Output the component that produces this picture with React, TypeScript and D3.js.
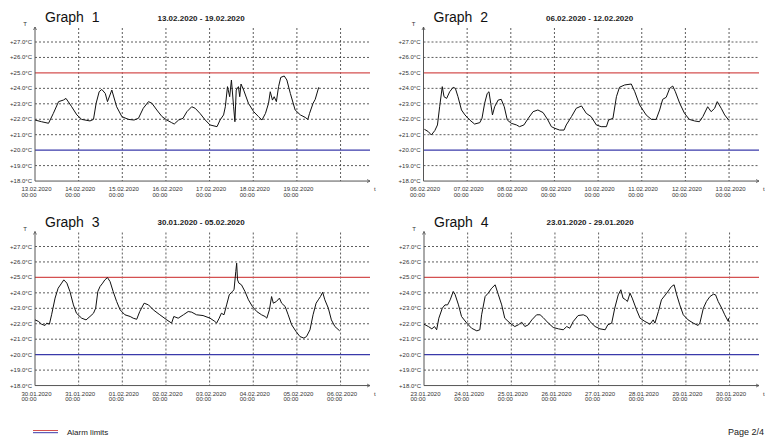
import React from "react";
import * as d3 from "d3";

// ---- Data (day offset from first date, temperature °C) ----
const graph1Readings: [number, number][] = [
  [0.0, 21.95], [0.15, 21.84], [0.31, 21.74], [0.42, 22.38], [0.54, 23.14], [0.65, 23.24], [0.71, 23.35],
  [0.84, 22.81], [0.96, 22.28], [1.07, 21.99], [1.26, 21.89], [1.34, 21.99], [1.4, 23.03], [1.47, 23.78],
  [1.53, 23.93], [1.61, 23.67], [1.66, 23.14], [1.76, 23.89], [1.87, 22.81], [1.99, 22.17], [2.14, 21.99],
  [2.27, 21.95], [2.37, 22.06], [2.48, 22.71], [2.6, 23.14], [2.68, 23.03], [2.79, 22.6], [2.91, 22.17],
  [3.02, 21.95], [3.13, 21.78], [3.19, 21.69], [3.29, 21.95], [3.39, 22.06], [3.48, 22.49], [3.59, 22.81],
  [3.67, 22.71], [3.78, 22.38], [3.9, 21.95], [4.01, 21.63], [4.17, 21.52], [4.24, 21.95], [4.32, 22.28],
  [4.36, 22.81], [4.41, 24.11], [4.46, 23.46], [4.5, 24.54], [4.55, 22.81], [4.58, 21.84], [4.61, 23.89],
  [4.66, 24.11], [4.69, 23.46], [4.72, 24.28], [4.78, 23.89], [4.89, 23.03], [5.01, 22.49], [5.12, 22.17],
  [5.2, 21.95], [5.28, 22.38], [5.35, 23.03], [5.39, 23.78], [5.44, 23.24], [5.48, 23.46], [5.53, 23.14],
  [5.58, 24.11], [5.63, 24.71], [5.71, 24.8], [5.77, 24.54], [5.85, 23.67], [5.96, 22.6], [6.08, 22.28],
  [6.19, 22.12], [6.25, 21.99], [6.29, 22.38], [6.37, 23.03], [6.42, 23.29], [6.5, 24.07],
];

const graph2Readings: [number, number][] = [
  [0.02, 21.35], [0.11, 21.2], [0.18, 20.98], [0.26, 21.27], [0.32, 21.63], [0.37, 22.81], [0.43, 24.11],
  [0.47, 23.46], [0.53, 23.35], [0.6, 23.78], [0.68, 24.07], [0.73, 24.0], [0.79, 23.46], [0.87, 22.6],
  [0.95, 22.28], [1.06, 21.95], [1.17, 21.69], [1.29, 21.78], [1.34, 22.06], [1.4, 23.03], [1.46, 23.67],
  [1.5, 23.78], [1.54, 23.03], [1.58, 22.28], [1.63, 22.81], [1.71, 23.24], [1.78, 23.29], [1.85, 22.81],
  [1.92, 21.95], [2.01, 21.74], [2.13, 21.63], [2.2, 21.52], [2.3, 21.63], [2.4, 22.06], [2.51, 22.49],
  [2.62, 22.6], [2.74, 22.43], [2.85, 21.95], [2.93, 21.52], [3.01, 21.41], [3.12, 21.3], [3.22, 21.3],
  [3.27, 21.63], [3.39, 22.17], [3.5, 22.71], [3.62, 22.86], [3.73, 22.38], [3.84, 22.17], [3.96, 21.63],
  [4.07, 21.52], [4.19, 21.52], [4.24, 21.95], [4.34, 22.06], [4.42, 23.46], [4.49, 24.07], [4.61, 24.22],
  [4.76, 24.28], [4.84, 23.78], [4.95, 22.93], [5.1, 22.28], [5.22, 21.99], [5.33, 21.99], [5.41, 22.6],
  [5.48, 23.29], [5.56, 23.42], [5.64, 24.0], [5.71, 24.15], [5.77, 23.78], [5.87, 23.03], [5.98, 22.38],
  [6.09, 21.99], [6.21, 21.89], [6.32, 21.84], [6.4, 22.17], [6.51, 22.81], [6.59, 22.49], [6.67, 22.71],
  [6.73, 23.14], [6.82, 22.71], [6.9, 22.28], [6.99, 21.95],
];

const graph3Readings: [number, number][] = [
  [0.0, 22.25], [0.08, 22.15], [0.15, 21.97], [0.23, 21.89], [0.27, 22.04], [0.33, 21.97], [0.38, 22.58],
  [0.46, 23.66], [0.53, 24.3], [0.61, 24.63], [0.66, 24.84], [0.73, 24.63], [0.8, 24.09], [0.88, 23.22],
  [0.95, 22.68], [1.07, 22.36], [1.17, 22.25], [1.26, 22.47], [1.34, 22.68], [1.39, 23.01], [1.44, 24.09],
  [1.49, 24.41], [1.55, 24.63], [1.6, 24.84], [1.66, 24.99], [1.72, 24.73], [1.79, 24.09], [1.87, 23.44],
  [1.95, 22.9], [2.06, 22.58], [2.18, 22.47], [2.25, 22.36], [2.33, 22.29], [2.4, 22.79], [2.5, 23.33],
  [2.6, 23.22], [2.71, 22.9], [2.86, 22.58], [3.02, 22.25], [3.13, 22.04], [3.18, 22.47], [3.28, 22.36],
  [3.4, 22.58], [3.51, 22.79], [3.59, 22.75], [3.7, 22.58], [3.85, 22.53], [4.01, 22.36], [4.12, 22.15],
  [4.16, 22.04], [4.22, 22.36], [4.27, 22.68], [4.33, 22.58], [4.39, 23.22], [4.45, 23.87], [4.52, 24.09],
  [4.56, 24.2], [4.6, 25.38], [4.62, 25.92], [4.64, 24.84], [4.67, 24.63], [4.73, 24.52], [4.81, 24.09],
  [4.89, 23.55], [4.98, 23.12], [5.08, 22.79], [5.19, 22.58], [5.27, 22.47], [5.31, 22.36], [5.37, 22.9],
  [5.42, 23.76], [5.46, 23.33], [5.53, 23.44], [5.6, 23.66], [5.65, 23.33], [5.73, 23.12], [5.8, 22.58],
  [5.88, 21.93], [5.98, 21.5], [6.07, 21.17], [6.16, 21.07], [6.22, 21.17], [6.3, 21.61], [6.37, 22.58],
  [6.44, 23.33], [6.49, 23.55], [6.54, 23.76], [6.59, 24.04], [6.64, 23.55], [6.72, 23.01], [6.79, 22.25],
  [6.87, 21.82], [6.98, 21.54],
];

const graph4Readings: [number, number][] = [
  [0.0, 21.97], [0.1, 21.82], [0.18, 21.67], [0.24, 21.82], [0.29, 21.61], [0.34, 22.36], [0.42, 23.01],
  [0.48, 23.22], [0.54, 23.22], [0.6, 23.55], [0.67, 24.09], [0.71, 23.91], [0.79, 23.22], [0.86, 22.47],
  [0.98, 22.04], [1.09, 21.71], [1.21, 21.54], [1.28, 21.61], [1.32, 22.58], [1.4, 23.76], [1.47, 23.98],
  [1.55, 24.3], [1.63, 24.52], [1.7, 23.91], [1.78, 23.22], [1.85, 22.36], [1.97, 22.04], [2.08, 21.82],
  [2.16, 21.93], [2.24, 22.1], [2.31, 21.82], [2.39, 21.93], [2.47, 22.25], [2.58, 22.58], [2.66, 22.58],
  [2.73, 22.4], [2.85, 22.04], [2.96, 21.76], [3.08, 21.67], [3.19, 21.61], [3.27, 21.82], [3.34, 21.71],
  [3.42, 22.15], [3.53, 22.53], [3.65, 22.58], [3.73, 22.47], [3.8, 22.15], [3.92, 21.82], [4.03, 21.67],
  [4.15, 21.61], [4.21, 21.93], [4.3, 22.04], [4.37, 23.01], [4.45, 23.87], [4.51, 24.2], [4.56, 23.66],
  [4.62, 23.55], [4.66, 23.44], [4.72, 23.98], [4.77, 23.66], [4.87, 22.9], [4.95, 22.36], [5.06, 22.15],
  [5.18, 21.97], [5.25, 22.25], [5.29, 22.04], [5.37, 22.79], [5.44, 23.55], [5.56, 23.98], [5.67, 24.41],
  [5.73, 24.52], [5.79, 23.87], [5.86, 23.22], [5.94, 22.58], [6.05, 22.25], [6.17, 22.04], [6.28, 21.89],
  [6.32, 22.04], [6.4, 23.01], [6.47, 23.44], [6.55, 23.76], [6.63, 23.91], [6.68, 23.87], [6.74, 23.44],
  [6.82, 23.01], [6.89, 22.58], [6.97, 22.15], [6.98, 22.36],
];

const graphTitles = ["Graph  1", "Graph  2", "Graph  3", "Graph  4"];
const dateRanges = [
  "13.02.2020 - 19.02.2020",
  "06.02.2020 - 12.02.2020",
  "30.01.2020 - 05.02.2020",
  "23.01.2020 - 29.01.2020",
];
const xTickDates = [
  ["13.02.2020", "14.02.2020", "15.02.2020", "16.02.2020", "17.02.2020", "18.02.2020", "19.02.2020"],
  ["06.02.2020", "07.02.2020", "08.02.2020", "09.02.2020", "10.02.2020", "11.02.2020", "12.02.2020", "13.02.2020"],
  ["30.01.2020", "31.01.2020", "01.02.2020", "02.02.2020", "03.02.2020", "04.02.2020", "05.02.2020", "06.02.2020"],
  ["23.01.2020", "24.01.2020", "25.01.2020", "26.01.2020", "27.01.2020", "28.01.2020", "29.01.2020", "30.01.2020"],
];
const xTickTime = "00:00";
const yTicks = [27, 26, 25, 24, 23, 22, 21, 20, 19, 18];
const alarmHigh = 25;
const alarmLow = 20;
const allReadings = [graph1Readings, graph2Readings, graph3Readings, graph4Readings];

// ---- Layout ----
const W = 765;
const H = 438;
const FONT = "'Liberation Sans', Arial, Helvetica, sans-serif";
const panels = [
  { ax: 35, top: 42, end: 370 },
  { ax: 423.5, top: 42, end: 759 },
  { ax: 35, top: 246.5, end: 370 },
  { ax: 424, top: 246.5, end: 759 },
];
const DAY_W = 43.65;
const DEG_H = 15.45;
const RED = "#d45050";
const BLUE = "#3a3aaa";
const GRID = "#333";

function Panel({ idx }: { idx: number }) {
  const p = panels[idx];
  const data = allReadings[idx];
  const x = d3.scaleLinear().domain([0, 7]).range([p.ax, p.ax + 7 * DAY_W]);
  const y = d3.scaleLinear().domain([18, 27]).range([p.top + 9 * DEG_H, p.top]);
  const line = d3
    .line<[number, number]>()
    .x((d) => x(d[0]))
    .y((d) => y(d[1]));
  const y0 = y(18);
  const axisTop = p.top - 15;
  const dayTicks = d3.range(1, 8);
  const labels = xTickDates[idx];
  return (
    <g>
      <text x={p.ax + 10} y={p.top - 20} fontSize={14} fontFamily={FONT} fill="#111">
        {graphTitles[idx].replace(/ /g, "\u00a0")}
      </text>
      <text x={p.ax + 122.5} y={p.top - 21.5} fontSize={8} fontWeight="bold" fontFamily={FONT} fill="#222">
        {dateRanges[idx]}
      </text>
      {/* horizontal grid */}
      {yTicks
        .filter((t) => t !== 18 && t !== alarmHigh && t !== alarmLow)
        .map((t) => (
          <line key={"h" + t} x1={p.ax} x2={p.end} y1={y(t)} y2={y(t)} stroke={GRID} strokeWidth={0.8} strokeDasharray="2,2" />
        ))}
      {/* vertical grid */}
      {dayTicks.map((d) => (
        <line key={"v" + d} x1={x(d)} x2={x(d)} y1={axisTop + 1} y2={y0} stroke={GRID} strokeWidth={0.8} strokeDasharray="2,2" />
      ))}
      {/* alarm limits */}
      <line x1={p.ax} x2={p.end} y1={y(alarmHigh)} y2={y(alarmHigh)} stroke={RED} strokeWidth={1.1} />
      <line x1={p.ax} x2={p.end} y1={y(alarmLow)} y2={y(alarmLow)} stroke={BLUE} strokeWidth={1.1} />
      {/* axes */}
      <line x1={p.ax} x2={p.ax} y1={y0} y2={axisTop} stroke="#555" strokeWidth={1} />
      <path d={`M${p.ax - 1.5},${axisTop + 3} L${p.ax},${axisTop} L${p.ax + 1.5},${axisTop + 3}`} fill="none" stroke="#555" strokeWidth={0.8} />
      <line x1={p.ax} x2={p.end} y1={y0} y2={y0} stroke="#555" strokeWidth={1} />
      <path d={`M${p.end - 3},${y0 - 1.5} L${p.end},${y0} L${p.end - 3},${y0 + 1.5}`} fill="none" stroke="#555" strokeWidth={0.8} />
      <text x={p.ax - 10} y={axisTop - 1} fontSize={6} fontFamily={FONT} fill="#333" textAnchor="middle">T</text>
      <text x={p.end + 4} y={y0 + 10} fontSize={6} fontFamily={FONT} fill="#333">t</text>
      {/* y tick labels */}
      {yTicks.map((t) => (
        <text key={"yl" + t} x={p.ax - 3} y={y(t) + 2} fontSize={6} fontFamily={FONT} fill="#333" textAnchor="end">
          {"+" + t.toFixed(1) + "°C"}
        </text>
      ))}
      {/* x tick labels */}
      {labels.map((lab, i) => (
        <g key={"xl" + i}>
          <text x={x(i) - 13.5} y={y0 + 10} fontSize={6} fontFamily={FONT} fill="#333">{lab}</text>
          <text x={x(i) - 13.5} y={y0 + 15.5} fontSize={6} fontFamily={FONT} fill="#333">{xTickTime}</text>
        </g>
      ))}
      <path d={line(data) || ""} fill="none" stroke="#111" strokeWidth={1} strokeLinejoin="round" />
    </g>
  );
}

export default function App() {
  return (
    <svg width={W} height={H} style={{ position: "absolute", left: 0, top: 0, background: "#fff" }}>
      <rect x={0} y={0} width={W} height={H} fill="#fff" />
      {[0, 1, 2, 3].map((i) => (
        <Panel key={i} idx={i} />
      ))}
      <line x1={33} x2={58} y1={430.5} y2={430.5} stroke={RED} strokeWidth={1} />
      <line x1={33} x2={58} y1={432.7} y2={432.7} stroke={BLUE} strokeWidth={1} />
      <text x={67} y={434.5} fontSize={8} fontFamily={FONT} fill="#222">Alarm limits</text>
      <text x={728} y={435} fontSize={9} fontFamily={FONT} fill="#222">Page 2/4</text>
    </svg>
  );
}
